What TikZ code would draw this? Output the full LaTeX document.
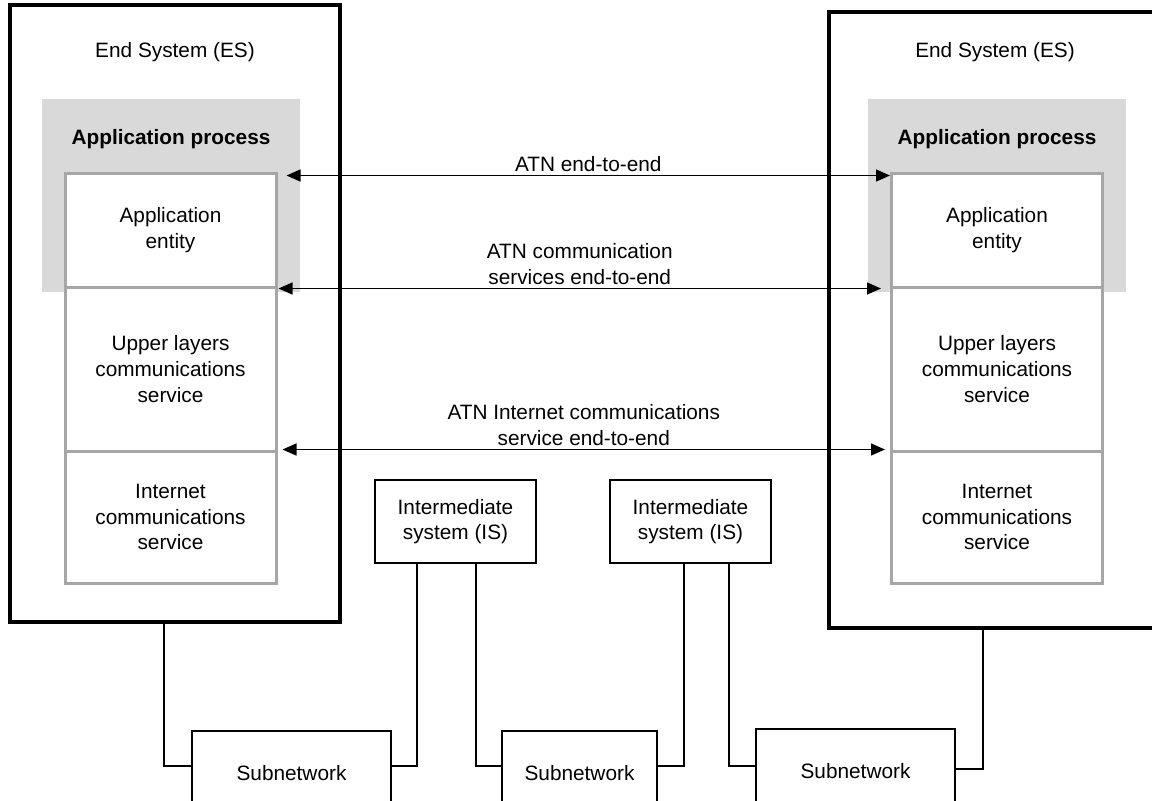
\documentclass[tikz,border=0pt]{standalone}
\usepackage{fontspec}
\setmainfont{Liberation Sans}
\usetikzlibrary{arrows.meta}
\definecolor{procgray}{HTML}{D9D9D9}
\definecolor{layergray}{HTML}{A6A6A6}
\tikzset{
  esbox/.style={draw, line width=2pt, minimum width=165pt, minimum height=308.5pt, inner sep=0pt},
  layer/.style={draw=layergray, line width=1.5pt, fill=white, minimum width=105.5pt, align=center, inner sep=0pt},
  plainbox/.style={draw, line width=0.6pt, fill=white, align=center, inner sep=0pt},
  arr/.style={arrows={Triangle[length=7pt,width=6pt]-Triangle[length=7pt,width=6pt]}, line width=0.75pt},
  link/.style={line width=0.7pt},
}
\begin{document}
\begin{tikzpicture}[x=0.5pt,y=-0.5pt,font=\fontsize{10.4}{12.8}\selectfont]
\clip (0,0) rectangle (1152,800);
% end systems
\node[esbox] (ESL) at (175,313.5) {};
\node[esbox, minimum width=166pt, minimum height=308pt] (ESR) at (995,320) {};
\draw[] (175,52) node (ESLt) {End System (ES)};
\draw[] (995,52) node (ESRt) {End System (ES)};
% application process
\node[fill=procgray, minimum width=129pt, minimum height=96.5pt, inner sep=0pt] (APL) at (171,195.5) {};
\node[fill=procgray, minimum width=129pt, minimum height=96.5pt, inner sep=0pt] (APR) at (997,195.5) {};
\draw[] (171,139) node[font=\fontsize{10.4}{12.8}\selectfont\bfseries] (APLt) {Application process};
\draw[] (997,139) node[font=\fontsize{10.4}{12.8}\selectfont\bfseries] (APRt) {Application process};
% layer stacks
\node[layer, minimum height=57pt] (AEL) at (170.5,230) {Application\\entity};
\node[layer, minimum height=82pt] (ULL) at (170.5,369) {Upper layers\\communications\\service};
\node[layer, minimum height=66pt] (ICL) at (170.5,517) {Internet\\communications\\service};
\node[layer, minimum height=57pt] (AER) at (997,230) {Application\\entity};
\node[layer, minimum height=82pt] (ULR) at (997,369) {Upper layers\\communications\\service};
\node[layer, minimum height=66pt] (ICR) at (997,517) {Internet\\communications\\service};
% end-to-end arrows
\draw[arr] ([shift={(4.5pt,-2pt)}]AEL.north east) -- ([yshift=-2pt]AER.north west)
  node[midway, above, inner sep=1.5pt] {ATN end-to-end};
\draw[arr] ([xshift=0.5pt]AEL.south east) -- ([xshift=-4.5pt]AER.south west)
  node[midway, above, inner sep=1.5pt, align=center] {ATN communication\\services end-to-end};
\draw[arr] ([xshift=2.5pt]ICL.north east) -- ([xshift=-2.5pt]ICR.north west)
  node[midway, above, inner sep=1.5pt, align=center] {ATN Internet communications\\service end-to-end};
% intermediate systems and subnetworks
\node[plainbox, minimum width=80.5pt, minimum height=41.5pt] (ISL) at (455.5,521.5) {Intermediate\\system (IS)};
\node[plainbox, minimum width=80.5pt, minimum height=41.5pt] (ISR) at (690.5,521.5) {Intermediate\\system (IS)};
\node[plainbox, minimum width=99.5pt, minimum height=42pt] (SNA) at (291.5,773) {Subnetwork};
\node[plainbox, minimum width=77.5pt, minimum height=42pt] (SNB) at (579.5,773) {Subnetwork};
\node[plainbox, minimum width=99.5pt, minimum height=42pt] (SNC) at (855.5,771) {Subnetwork};
\draw[link] ([xshift=-5.5pt]ESL.south) |- ([yshift=3.5pt]SNA.west);
\draw[link] ([yshift=3.5pt]SNA.east) -| ([xshift=-19.25pt]ISL.south);
\draw[link] ([xshift=10.25pt]ISL.south) |- ([yshift=3.5pt]SNB.west);
\draw[link] ([yshift=3.5pt]SNB.east) -| ([xshift=-3.25pt]ISR.south);
\draw[link] ([xshift=19.25pt]ISR.south) |- ([yshift=2.5pt]SNC.west);
\draw[link] ([yshift=1pt]SNC.east) -| ([xshift=-6pt]ESR.south);
\end{tikzpicture}
\end{document}
